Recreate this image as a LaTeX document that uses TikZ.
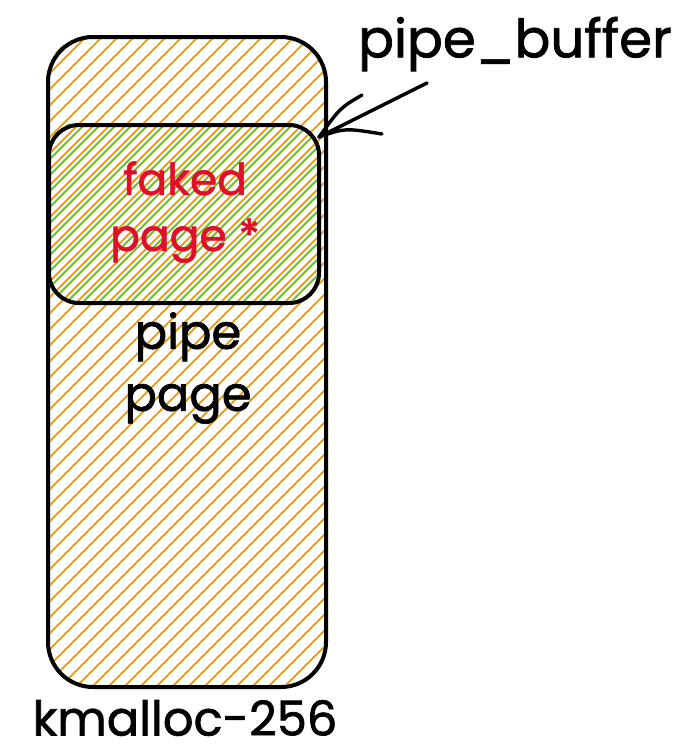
\documentclass[tikz,border=0pt]{standalone}
\usepackage{fontspec}
\setmainfont{Poppins}[FakeBold=1.4]
\definecolor{hatchorange}{HTML}{F5A000}
\definecolor{hatchgreen}{HTML}{6CC414}
\definecolor{fakered}{HTML}{E0102A}
\begin{document}
\begin{tikzpicture}[x=1pt,y=-1pt,
  outline/.style={line width=4pt,black,line join=round},
  hatchline/.style={line width=1.8pt},
  lbl/.style={align=center,inner sep=0pt},
  arrowline/.style={line width=3.4pt,line cap=round}]
\useasboundingbox (0,0) rectangle (688,755);
% outer shape hatching
\begin{scope}
  \clip[rounded corners=45pt] (46,35) rectangle (324,685);
  \foreach \k in {-705,-689,...,340}
    \draw[hatchline,hatchorange] (\k,700) -- (\k+700,0);
\end{scope}
% inner shape green hatching
\begin{scope}
  \clip[rounded corners=30pt] (47,123) rectangle (317,301);
  \foreach \k in {-699,-683,...,340}
    \draw[hatchline,hatchgreen] (\k,700) -- (\k+700,0);
\end{scope}
\node[outline,draw,rounded corners=45pt,minimum width=278pt,minimum height=650pt,anchor=north west] (buf) at (46,35) {};
\node[outline,draw,rounded corners=30pt,minimum width=270pt,minimum height=178pt,anchor=north west] (fake) at (47,123) {};
\node[lbl,text=fakered,font=\fontsize{44}{56}\selectfont] (faketxt) at (185,212) {faked\\page *};
\node[lbl,font=\fontsize{48}{62}\selectfont] (pipetxt) at (188,368) {pipe\\page};
\node[lbl,font=\fontsize{53}{60}\selectfont] (pbtxt) at (515,44) {pipe\_buffer};
\node[lbl,font=\fontsize{48}{54}\selectfont] (kmtxt) at (185,718) {kmalloc-256};
% arrow
\coordinate (tail) at (427,83);
\coordinate (tip) at (319,137);
\coordinate (barbA) at (362,95);
\coordinate (barbB) at (382,134);
\draw[arrowline] (tail) -- (tip);
\draw[arrowline] (barbA) .. controls (340,108) .. (tip);
\draw[arrowline] (barbB) .. controls (345,128) .. (tip);
\end{tikzpicture}
\end{document}
